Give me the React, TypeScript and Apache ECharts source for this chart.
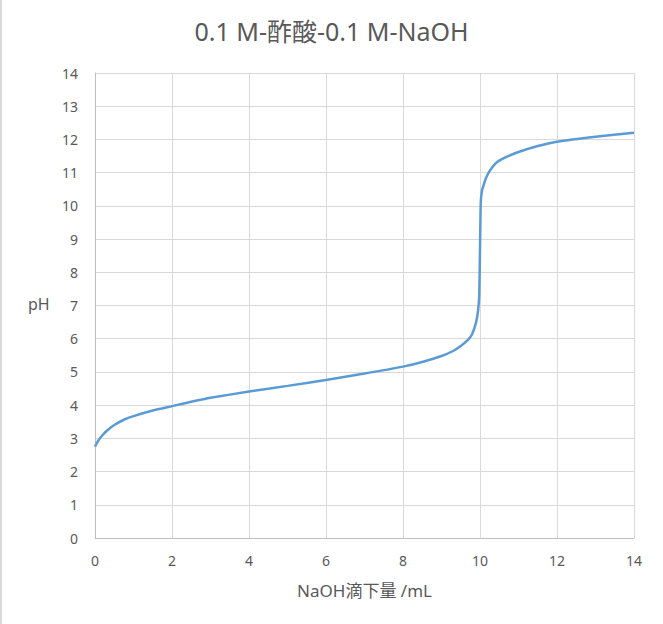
import React, { useEffect, useRef } from "react";
import * as echarts from "echarts";

const titleText = "0.1 M-酢酸-0.1 M-NaOH";
const xAxisName = "NaOH滴下量 /mL";
const yAxisName = "pH";
const volumeML = [0, 0.05, 0.1, 0.2, 0.3, 0.5, 0.75, 1, 1.5, 2, 2.5, 3, 4, 5, 6, 7, 8, 8.5, 9, 9.3, 9.5, 9.7, 9.8, 9.9, 9.95, 9.98, 10, 10.02, 10.05, 10.1, 10.15, 10.2, 10.3, 10.4, 10.5, 10.7, 11, 11.5, 12, 13, 14];
const pHValues = [2.75, 2.86, 2.96, 3.1, 3.22, 3.4, 3.56, 3.67, 3.84, 3.97, 4.1, 4.22, 4.41, 4.58, 4.76, 4.95, 5.16, 5.3, 5.48, 5.63, 5.78, 5.98, 6.15, 6.5, 6.85, 7.3, 8.7, 10.1, 10.45, 10.65, 10.82, 10.95, 11.13, 11.27, 11.36, 11.48, 11.62, 11.8, 11.93, 12.08, 12.2];

const FONT = "'Noto Sans', 'Noto Sans CJK JP', sans-serif";
const TEXT = "#595959";

export default function App() {
  const ref = useRef<HTMLDivElement>(null);
  useEffect(() => {
    if (!ref.current) return;
    const chart = echarts.init(ref.current, undefined, { renderer: "svg" });
    const data = volumeML.map((v, i) => [v, pHValues[i]]);
    chart.setOption({
      animation: false,
      backgroundColor: "#ffffff",
      title: {
        text: titleText,
        left: "center",
        top: 13,
        textStyle: { fontFamily: FONT, fontSize: 25, fontWeight: "normal", color: TEXT },
      },
      grid: { left: 95, right: 29, top: 73, bottom: 86, containLabel: false },
      xAxis: {
        type: "value",
        min: 0,
        max: 14,
        interval: 2,
        name: xAxisName,
        nameLocation: "middle",
        nameGap: 44,
        nameTextStyle: { fontFamily: FONT, fontSize: 17, color: TEXT },
        axisLine: { show: true, lineStyle: { color: "#bfbfbf", width: 1 } },
        axisTick: { show: false },
        axisLabel: { fontFamily: FONT, fontSize: 14, color: TEXT, margin: 15 },
        splitLine: { show: true, lineStyle: { color: "#d9d9d9", width: 1 } },
      },
      yAxis: {
        type: "value",
        min: 0,
        max: 14,
        interval: 1,
        axisLine: { show: true, lineStyle: { color: "#bfbfbf", width: 1 } },
        axisTick: { show: false },
        axisLabel: { fontFamily: FONT, fontSize: 14, color: TEXT, margin: 17 },
        splitLine: { show: true, lineStyle: { color: "#d9d9d9", width: 1 } },
      },
      graphic: [
        {
          type: "text",
          left: 28,
          top: 296,
          style: { text: yAxisName, fontFamily: FONT, fontSize: 16, fill: TEXT },
        },
        {
          type: "line",
          shape: { x1: 1, y1: 0, x2: 1, y2: 624 },
          style: { stroke: "#d9d9d9", lineWidth: 2 },
        },
      ],
      series: [
        {
          type: "line",
          data,
          showSymbol: false,
          smooth: 0.2,
          lineStyle: { color: "#5b9bd5", width: 2.5 },
          itemStyle: { color: "#5b9bd5" },
        },
      ],
    });
    return () => chart.dispose();
  }, []);
  return (
    <div
      ref={ref}
      style={{ position: "absolute", left: 0, top: 0, width: 663, height: 624 }}
    />
  );
}
